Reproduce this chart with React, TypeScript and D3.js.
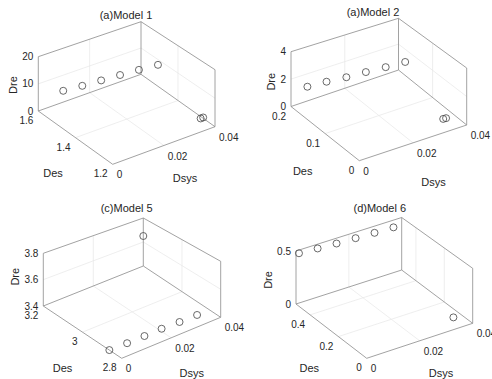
import * as d3 from "d3";

// ---- data ----
const xTicks = [0, 0.02, 0.04];

const model1Dsys = [0, 0.007, 0.014, 0.021, 0.028, 0.035, 0.0393, 0.04];
const model1Des = [1.466, 1.46, 1.455, 1.45, 1.445, 1.439, 1.268, 1.264];
const model1Dre = [13.7, 13.5, 13.4, 13.3, 13.1, 12.9, 0, 0.3];
const model1DesTicks = [1.2, 1.4, 1.6];
const model1DreTicks = [0, 10, 20];

const model2Dsys = [0, 0.007, 0.014, 0.021, 0.028, 0.035, 0.0358, 0.0368];
const model2Des = [0.152, 0.151, 0.148, 0.146, 0.143, 0.141, 0.0358, 0.0353];
const model2Dre = [2.36, 2.3, 2.24, 2.21, 2.18, 2.15, 0, 0];
const model2DesTicks = [0, 0.1, 0.2];
const model2DreTicks = [0, 2, 4];

const model5Dsys = [0, 0.007, 0.014, 0.021, 0.028, 0.035, 0.04];
const model5Des = [2.863, 2.861, 2.861, 2.862, 2.859, 2.858, 3.2];
const model5Dre = [3.4, 3.4, 3.4, 3.4, 3.4, 3.4, 3.65];
const model5DesTicks = [2.8, 3, 3.2];
const model5DreTicks = [3.4, 3.6, 3.8];

const model6Dsys = [0, 0.007, 0.014, 0.021, 0.028, 0.035, 0.037];
const model6Des = [0.479, 0.478, 0.475, 0.471, 0.468, 0.465, 0.08];
const model6Dre = [0.499, 0.49, 0.484, 0.483, 0.481, 0.48, 0];
const model6DesTicks = [0, 0.2, 0.4];
const model6DreTicks = [0, 0.5];

type Pt = [number, number];

interface Panel {
  title: string;
  titlePos: Pt;
  F: Pt; R: Pt; L: Pt; B: Pt; // bottom corners on screen
  hF: number; hR: number; hL: number; hB: number; // box heights at corners
  yDomain: [number, number];
  zDomain: [number, number];
  yTicks: number[];
  zTicks: number[];
  dsysPos: Pt; desPos: Pt; drePos: Pt;
  xs: number[]; ys: number[]; zs: number[];
}

const panels: Panel[] = [
  {
    title: "(a)Model 1", titlePos: [126, 19],
    F: [112.7, 164.3], R: [215, 126.7], L: [38.3, 111], B: [141, 74.3],
    hF: 58, hR: 57, hL: 54.3, hB: 52.6,
    yDomain: [1.2, 1.6], zDomain: [0, 20],
    yTicks: model1DesTicks, zTicks: model1DreTicks,
    dsysPos: [185, 178], desPos: [53, 173], drePos: [13, 85],
    xs: model1Dsys, ys: model1Des, zs: model1Dre,
  },
  {
    title: "(a)Model 2", titlePos: [373, 15.7],
    F: [359.3, 160.7], R: [466.7, 125], L: [291, 106.5], B: [398.5, 70],
    hF: 58, hR: 57, hL: 54.8, hB: 51.7,
    yDomain: [0, 0.2], zDomain: [0, 4],
    yTicks: model2DesTicks, zTicks: model2DreTicks,
    dsysPos: [433.5, 182], desPos: [302.7, 170.7], drePos: [271, 81.7],
    xs: model2Dsys, ys: model2Des, zs: model2Dre,
  },
  {
    title: "(c)Model 5", titlePos: [126.7, 212.3],
    F: [121.7, 358.3], R: [220.7, 317.3], L: [43.3, 306], B: [143.3, 266],
    hF: 57, hR: 56, hL: 52.7, hB: 48,
    yDomain: [2.8, 3.2], zDomain: [3.4, 3.8],
    yTicks: model5DesTicks, zTicks: model5DreTicks,
    dsysPos: [191.7, 372.7], desPos: [62.5, 368.3], drePos: [15, 276.7],
    xs: model5Dsys, ys: model5Des, zs: model5Dre,
  },
  {
    title: "(d)Model 6", titlePos: [379.8, 212.3],
    F: [366.7, 358.3], R: [472.7, 323.3], L: [296, 304], B: [401.7, 270],
    hF: 56, hR: 55, hL: 53, hB: 52.5,
    yDomain: [0, 0.5], zDomain: [0, 0.5],
    yTicks: model6DesTicks, zTicks: model6DreTicks,
    dsysPos: [441, 372.7], desPos: [309.3, 368.3], drePos: [267.7, 280],
    xs: model6Dsys, ys: model6Des, zs: model6Dre,
  },
];

const font = "'Liberation Sans', Arial, Helvetica, sans-serif";
const axisColor = "#8a8a8a";
const gridColor = "#e6e6e6";
const textColor = "#262626";

function Axes3D({ p }: { p: Panel }) {
  const sx = d3.scaleLinear().domain([0, 0.04]).range([0, 1]);
  const sy = d3.scaleLinear().domain(p.yDomain).range([0, 1]);
  const sz = d3.scaleLinear().domain(p.zDomain).range([0, 1]);

  // bilinear floor + interpolated height (slight perspective in the source)
  const proj = (x: number, y: number, z: number): Pt => {
    const u = sx(x), v = sy(y), w = sz(z);
    const a = (1 - u) * (1 - v), b = u * (1 - v), c = (1 - u) * v, d = u * v;
    const bx = a * p.F[0] + b * p.R[0] + c * p.L[0] + d * p.B[0];
    const by = a * p.F[1] + b * p.R[1] + c * p.L[1] + d * p.B[1];
    const h = a * p.hF + b * p.hR + c * p.hL + d * p.hB;
    return [bx, by - w * h];
  };

  const [x0, x1] = [0, 0.04];
  const [y0, y1] = p.yDomain;
  const [z0, z1] = p.zDomain;
  const inner = (t: number, dom: [number, number]) => t > dom[0] + 1e-9 && t < dom[1] - 1e-9;

  const grid: [Pt, Pt][] = [];
  xTicks.filter((t) => inner(t, [x0, x1])).forEach((t) => {
    grid.push([proj(t, y0, z0), proj(t, y1, z0)]);
    grid.push([proj(t, y1, z0), proj(t, y1, z1)]);
  });
  p.yTicks.filter((t) => inner(t, p.yDomain)).forEach((t) => {
    grid.push([proj(x0, t, z0), proj(x1, t, z0)]);
    grid.push([proj(x1, t, z0), proj(x1, t, z1)]);
  });
  p.zTicks.filter((t) => inner(t, p.zDomain)).forEach((t) => {
    grid.push([proj(x0, y1, t), proj(x1, y1, t)]);
    grid.push([proj(x1, y1, t), proj(x1, y0, t)]);
  });

  const box: [Pt, Pt][] = [
    [proj(x0, y0, z0), proj(x1, y0, z0)],
    [proj(x0, y0, z0), proj(x0, y1, z0)],
    [proj(x0, y1, z0), proj(x1, y1, z0)],
    [proj(x1, y1, z0), proj(x1, y0, z0)],
    [proj(x0, y1, z0), proj(x0, y1, z1)],
    [proj(x1, y1, z0), proj(x1, y1, z1)],
    [proj(x1, y0, z0), proj(x1, y0, z1)],
    [proj(x0, y1, z1), proj(x1, y1, z1)],
    [proj(x1, y1, z1), proj(x1, y0, z1)],
  ];

  return (
    <g fontFamily={font} fill={textColor}>
      {grid.map(([a, b], i) => (
        <line key={"g" + i} x1={a[0]} y1={a[1]} x2={b[0]} y2={b[1]} stroke={gridColor} strokeWidth={0.7} />
      ))}
      {box.map(([a, b], i) => (
        <line key={"b" + i} x1={a[0]} y1={a[1]} x2={b[0]} y2={b[1]} stroke={axisColor} strokeWidth={0.8} />
      ))}

      {p.xs.map((x, i) => {
        const [cx, cy] = proj(x, p.ys[i], p.zs[i]);
        return <circle key={"c" + i} cx={cx} cy={cy} r={3.5} fill="none" stroke="#444" strokeWidth={0.8} />;
      })}

      {xTicks.map((t) => {
        const [tx, ty] = proj(t, y0, z0);
        return (
          <text key={"xt" + t} x={tx + 4} y={ty + 14} fontSize={10} textAnchor="start">{String(t)}</text>
        );
      })}
      {p.yTicks.map((t) => {
        const [tx, ty] = proj(x0, t, z0);
        return (
          <text key={"yt" + t} x={tx - 5} y={ty + 13} fontSize={10} textAnchor="end">{String(t)}</text>
        );
      })}
      {p.zTicks.map((t) => {
        const [tx, ty] = proj(x0, y1, t);
        return (
          <text key={"zt" + t} x={tx - 5} y={ty + 3.5} fontSize={10} textAnchor="end">{String(t)}</text>
        );
      })}

      <text x={p.titlePos[0]} y={p.titlePos[1]} fontSize={11} textAnchor="middle">{p.title}</text>
      <text x={p.dsysPos[0]} y={p.dsysPos[1]} dy="0.35em" fontSize={11} textAnchor="middle">Dsys</text>
      <text x={p.desPos[0]} y={p.desPos[1]} dy="0.35em" fontSize={11} textAnchor="middle">Des</text>
      <text
        x={p.drePos[0]} y={p.drePos[1]} dy="0.35em" fontSize={11} textAnchor="middle"
        transform={`rotate(-90 ${p.drePos[0]} ${p.drePos[1]})`}
      >
        Dre
      </text>
    </g>
  );
}

export default function App() {
  return (
    <svg
      width={492}
      height={379}
      style={{ position: "absolute", left: 0, top: 0, background: "#fff", overflow: "hidden" }}
    >
      <rect width={492} height={379} fill="#fff" />
      {panels.map((p) => (
        <Axes3D key={p.title} p={p} />
      ))}
    </svg>
  );
}
